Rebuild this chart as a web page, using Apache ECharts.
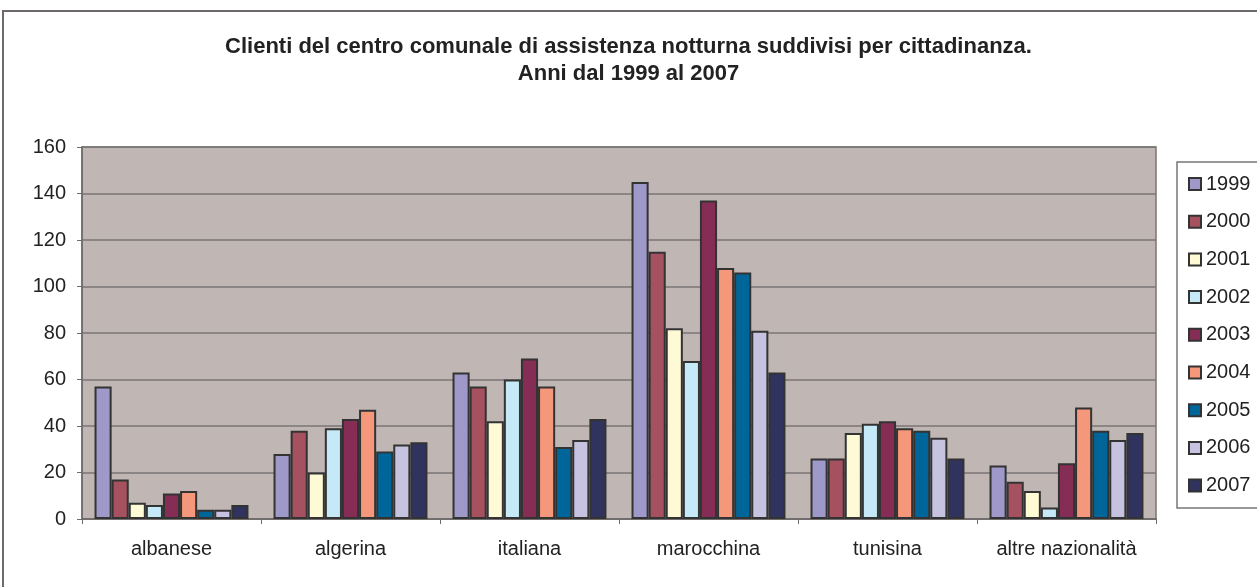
<!DOCTYPE html>
<html>
<head>
<meta charset="utf-8">
<script src="https://cdn.jsdelivr.net/npm/echarts@6/dist/echarts.min.js"></script>
<style>
  html, body { margin: 0; padding: 0; background: #fff; }
  #chart { width: 1257px; height: 587px; }
</style>
</head>
<body>
<div id="chart"></div>
<script>
// categorie e dati
var categorie = ['albanese', 'algerina', 'italiana', 'marocchina', 'tunisina', 'altre nazionalità'];
var anni = ['1999', '2000', '2001', '2002', '2003', '2004', '2005', '2006', '2007'];
var v1999 = [57, 28, 63, 145, 26, 23];
var v2000 = [17, 38, 57, 115, 26, 16];
var v2001 = [7, 20, 42, 82, 37, 12];
var v2002 = [6, 39, 60, 68, 41, 5];
var v2003 = [11, 43, 69, 137, 42, 24];
var v2004 = [12, 47, 57, 108, 39, 48];
var v2005 = [4, 29, 31, 106, 38, 38];
var v2006 = [4, 32, 34, 81, 35, 34];
var v2007 = [6, 33, 43, 63, 26, 37];
var valori = [v1999, v2000, v2001, v2002, v2003, v2004, v2005, v2006, v2007];
var colori = ['#9e99c9', '#a6515f', '#fffad6', '#c6e9f7', '#862d56', '#f5977a', '#00669a', '#c6c3e0', '#31335f'];

var font = 'Liberation Sans, Arial, sans-serif';

var chart = echarts.init(document.getElementById('chart'));

var serie = anni.map(function (a, i) {
    return {
        name: a,
        type: 'bar',
        barGap: '0%',
        barCategoryGap: '14%',
        itemStyle: {
            color: colori[i],
            borderColor: '#333333',
            borderWidth: 2
        },
        data: valori[i]
    };
});

var option = {
    animation: false,
    backgroundColor: '#ffffff',
    title: {
        text: 'Clienti del centro comunale di assistenza notturna suddivisi per cittadinanza.\nAnni dal 1999 al 2007',
        left: 'center',
        top: 28,
        textStyle: {
            fontFamily: font,
            fontSize: 22,
            fontWeight: 'bold',
            color: '#222222',
            lineHeight: 27
        }
    },
    graphic: [
        {
            type: 'rect',
            shape: { x: 3, y: 11, width: 1270, height: 600 },
            style: { fill: 'none', stroke: '#6e6a6a', lineWidth: 2 },
            z: -1
        },
        {
            type: 'rect',
            shape: { x: 1177, y: 162, width: 100, height: 346 },
            style: { fill: '#ffffff', stroke: '#777777', lineWidth: 1.5 },
            z: 0
        }
    ],
    legend: {
        data: anni,
        orient: 'vertical',
        left: 1183,
        top: 169,
        itemWidth: 12,
        itemHeight: 12,
        itemGap: 17.7,
        icon: 'rect',
        textStyle: {
            fontFamily: font,
            fontSize: 20,
            color: '#222222'
        },
        z: 5
    },
    grid: {
        left: 82,
        right: 101,
        top: 147,
        bottom: 68,
        show: true,
        backgroundColor: '#c0b7b4',
        borderColor: '#7a7676',
        borderWidth: 1.5
    },
    xAxis: {
        type: 'category',
        data: categorie,
        axisLine: { lineStyle: { color: '#6e6a6a', width: 1.5 } },
        axisTick: { show: true, length: 5, lineStyle: { color: '#6e6a6a' } },
        axisLabel: {
            interval: 0,
            fontFamily: font,
            fontSize: 20,
            color: '#222222',
            margin: 20
        }
    },
    yAxis: {
        type: 'value',
        min: 0,
        max: 160,
        interval: 20,
        axisLine: { show: true, lineStyle: { color: '#6e6a6a', width: 1.5 } },
        axisTick: { show: true, length: 5, lineStyle: { color: '#6e6a6a' } },
        axisLabel: {
            fontFamily: font,
            fontSize: 20,
            color: '#222222',
            margin: 16
        },
        splitLine: { lineStyle: { color: '#7a7676', width: 1.5 } }
    },
    series: serie
};

chart.setOption(option);
</script>
</body>
</html>
